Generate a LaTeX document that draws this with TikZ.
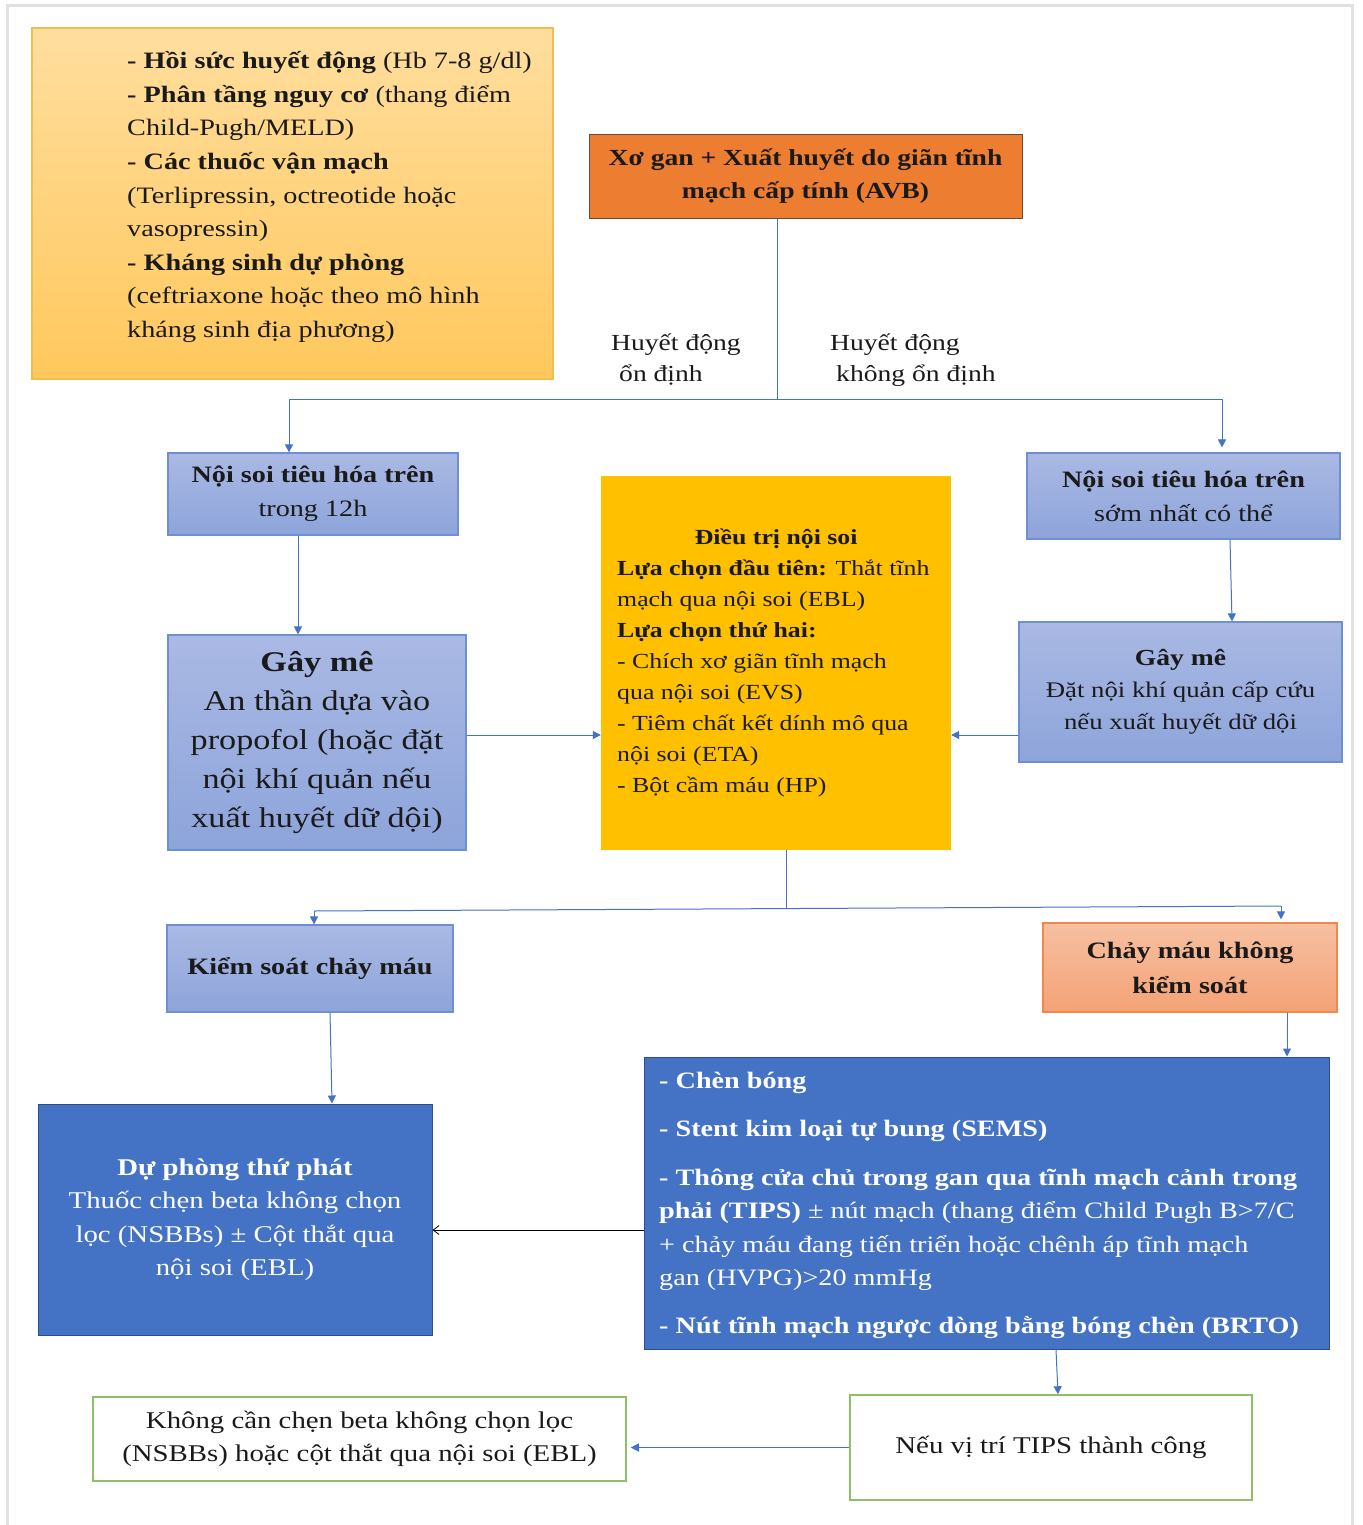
\documentclass[tikz,border=0pt]{standalone}
\usepackage{fontspec}
\setmainfont{Liberation Serif}[FakeStretch=1.2]
\usetikzlibrary{arrows.meta,calc}
\definecolor{frame}{HTML}{E4E0E0}
\definecolor{ltop}{HTML}{FFDE9E}
\definecolor{lbot}{HTML}{FFC85C}
\definecolor{lbrd}{HTML}{F3BC52}
\definecolor{avbf}{HTML}{ED7D31}
\definecolor{avbd}{HTML}{6E4A34}
\definecolor{btop}{HTML}{AAB9E4}
\definecolor{bbot}{HTML}{8DA4DA}
\definecolor{bbrd}{HTML}{6F8FD3}
\definecolor{gold}{HTML}{FFC000}
\definecolor{stop}{HTML}{F6C0A2}
\definecolor{sbot}{HTML}{F4A275}
\definecolor{sbrd}{HTML}{F08A4B}
\definecolor{dblue}{HTML}{4472C4}
\definecolor{dbrd}{HTML}{2E4E8A}
\definecolor{grn}{HTML}{8CC168}
\definecolor{arc}{HTML}{4472C4}
\definecolor{ink}{HTML}{1A1A1A}
\tikzset{
  x=1pt, y=-1pt,
  lbox/.style={draw=lbrd, line width=1.2pt, top color=ltop, bottom color=lbot, inner sep=0pt},
  avbbox/.style={draw=avbd, line width=1pt, fill=avbf, inner sep=0pt, align=center, text=ink},
  bluebox/.style={draw=bbrd, line width=1.2pt, top color=btop, bottom color=bbot, inner sep=0pt, align=center, text=ink},
  goldbox/.style={fill=gold, inner sep=0pt},
  salbox/.style={draw=sbrd, line width=1.2pt, top color=stop, bottom color=sbot, inner sep=0pt, align=center, text=ink},
  dbox/.style={draw=dbrd, line width=1pt, fill=dblue, inner sep=0pt, align=center, text=white},
  gbox/.style={draw=grn, line width=1.5pt, fill=white, inner sep=0pt, align=center, text=ink},
  conn/.style={draw=arc, line width=1pt},
  arr/.style={conn, -{Triangle[length=8pt,width=8pt]}},
  barr/.style={draw=black, line width=0.8pt, -{Straight Barb[length=6pt,width=9pt]}},
  txt/.style={inner sep=0pt, align=left, text=ink},
}
\begin{document}
\begin{tikzpicture}
\useasboundingbox (0,0) rectangle (1362,1525);
\fill[white] (0,0) rectangle (1362,1525);
% outer frame
\draw[frame, line width=3pt] (7,1525) -- (7,6) -- (1352,6) -- (1352,1525);

% top-left box
\node[lbox, minimum width=521pt, minimum height=351pt] (pre) at (292.5,203.5) {};
\node[txt, anchor=west, font=\fontsize{23.5}{33.6}\selectfont] (pretxt) at (127,197)
 {\textbf{- Hồi sức huyết động} (Hb 7-8 g/dl)\\
  \textbf{- Phân tầng nguy cơ} (thang điểm\\
  Child-Pugh/MELD)\\
  \textbf{- Các thuốc vận mạch}\\
  (Terlipressin, octreotide hoặc\\
  vasopressin)\\
  \textbf{- Kháng sinh dự phòng}\\
  (ceftriaxone hoặc theo mô hình\\
  kháng sinh địa phương)};

% AVB box
\node[avbbox, minimum width=433pt, minimum height=83pt, font=\fontsize{23}{33}\selectfont\bfseries] (avb) at (805.5,176.5)
 {Xơ gan + Xuất huyết do giãn tĩnh\\ mạch cấp tính (AVB)};

% labels
\node[txt, anchor=west, font=\fontsize{23}{31}\selectfont] (lab1) at (611,360) {Huyết động\\\hspace*{8pt}ổn định};
\node[txt, anchor=west, font=\fontsize{23}{31}\selectfont] (lab2) at (830,360) {Huyết động\\\hspace*{6pt}không ổn định};

% endoscopy boxes
\node[bluebox, minimum width=290pt, minimum height=82pt, font=\fontsize{23.5}{34}\selectfont] (ns1) at (313,494)
 {\textbf{Nội soi tiêu hóa trên}\\ trong 12h};
\node[bluebox, minimum width=313pt, minimum height=86pt, font=\fontsize{23.5}{34}\selectfont] (ns2) at (1183.5,496)
 {\textbf{Nội soi tiêu hóa trên}\\ sớm nhất có thể};

% anaesthesia boxes
\node[bluebox, minimum width=298pt, minimum height=215pt, font=\fontsize{28.5}{39}\selectfont] (gm1) at (317,742.5)
 {\textbf{Gây mê}\\ An thần dựa vào\\ propofol (hoặc đặt\\ nội khí quản nếu\\ xuất huyết dữ dội)};
\node[bluebox, minimum width=323pt, minimum height=140pt, font=\fontsize{22.3}{32}\selectfont] (gm2) at (1180.5,692)
 {{\fontsize{23}{32}\selectfont\textbf{Gây mê}}\\ Đặt nội khí quản cấp cứu\\ nếu xuất huyết dữ dội};

% central box
\node[goldbox, minimum width=350pt, minimum height=374pt] (ctr) at (776,663) {};
\node[txt, anchor=west, font=\fontsize{21.5}{31}\selectfont] (ctrtxt) at (617,663)
 {\makebox[318pt]{\textbf{Điều trị nội soi}}\\
  \textbf{Lựa chọn đầu tiên:} Thắt tĩnh\\
  mạch qua nội soi (EBL)\\
  \textbf{Lựa chọn thứ hai:}\\
  - Chích xơ giãn tĩnh mạch\\
  qua nội soi (EVS)\\
  - Tiêm chất kết dính mô qua\\
  nội soi (ETA)\\
  - Bột cầm máu (HP)};

% outcome boxes
\node[bluebox, minimum width=286pt, minimum height=87pt, font=\fontsize{23.5}{34}\selectfont\bfseries] (ks) at (310,968.5)
 {Kiểm soát chảy máu};
\node[salbox, minimum width=294pt, minimum height=89pt, font=\fontsize{23.5}{35}\selectfont\bfseries] (cm) at (1190,967.5)
 {Chảy máu không\\ kiểm soát};

% secondary prophylaxis
\node[dbox, minimum width=394pt, minimum height=231pt, font=\fontsize{24}{33.5}\selectfont] (dp) at (235,1219.5)
 {\textbf{Dự phòng thứ phát}\\ Thuốc chẹn beta không chọn\\ lọc (NSBBs) ± Cột thắt qua\\ nội soi (EBL)};

% rescue therapies
\node[dbox, minimum width=685pt, minimum height=292pt] (rb) at (986.5,1203) {};
\node[txt, anchor=west, text=white, font=\fontsize{23.5}{33.5}\selectfont] (rbtxt) at (659,1205)
 {\textbf{- Chèn bóng}\\[15pt]
  \textbf{- Stent kim loại tự bung (SEMS)}\\[15pt]
  \textbf{- Thông cửa chủ trong gan qua tĩnh mạch cảnh trong}\\
  \textbf{phải (TIPS)} ± nút mạch (thang điểm Child Pugh B>7/C\\
  + chảy máu đang tiến triển hoặc chênh áp tĩnh mạch\\
  gan (HVPG)>20 mmHg\\[14pt]
  \textbf{- Nút tĩnh mạch ngược dòng bằng bóng chèn (BRTO)}};

% bottom boxes
\node[gbox, minimum width=402pt, minimum height=105pt, font=\fontsize{24}{34}\selectfont] (tips) at (1051,1447.5)
 {Nếu vị trí TIPS thành công};
\node[gbox, minimum width=533pt, minimum height=84pt, font=\fontsize{24}{33}\selectfont] (kc) at (359.5,1439)
 {Không cần chẹn beta không chọn lọc\\ (NSBBs) hoặc cột thắt qua nội soi (EBL)};

% connectors
\coordinate (j1) at (777,399);
\coordinate (jl) at (289,399);
\coordinate (jr) at (1222,399);
\draw[conn] (avb.south -| j1) -- (j1);
\draw[conn] (jl) -- (jr);
\draw[arr] (jl) -- (jl |- ns1.north);
\draw[arr, shorten >=5pt] (jr) -- (jr |- ns2.north);
\draw[arr] ([xshift=-15pt]ns1.south) -- ([xshift=-19pt]gm1.north);
\draw[arr] ([xshift=46.5pt]ns2.south) -- ([xshift=51.5pt]gm2.north);
\draw[arr] ([yshift=7.5pt]gm1.east) -- ([yshift=7.5pt]gm1.east -| ctr.west);
\draw[arr] ([yshift=-43pt]gm2.west) -- ([yshift=-43pt]gm2.west -| ctr.east);

\coordinate (j2) at (786,908);
\coordinate (kl) at (314,911);
\coordinate (kr) at (1281,906);
\draw[conn] ([xshift=10pt]ctr.south) -- (j2);
\draw[conn] (kl) -- (kr);
\draw[arr] (kl) -- (kl |- ks.north);
\draw[arr, shorten >=3pt] (kr) -- (kr |- cm.north);
\draw[arr] ([xshift=20pt]ks.south) -- ([xshift=97pt]dp.north);
\draw[arr] ([xshift=97pt]cm.south) -- ([xshift=300.5pt]rb.north);
\draw[barr] ([yshift=-27pt]rb.west) -- ([yshift=-27pt]rb.west -| dp.east);
\draw[arr] ([xshift=69.5pt]rb.south) -- ([xshift=7pt]tips.north);
\draw[arr, shorten >=4pt] (tips.west) -- (tips.west -| kc.east);
\end{tikzpicture}
\end{document}
